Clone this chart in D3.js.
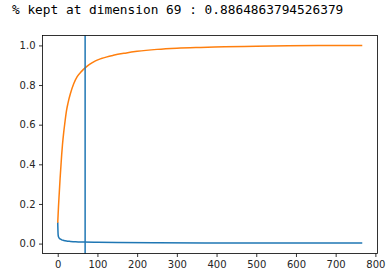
<!DOCTYPE html>
<html>
<head>
<meta charset="utf-8">
<script src="https://cdn.jsdelivr.net/npm/d3@7"></script>
<style>
  body { margin: 0; background: #fff; }
  svg { display: block; }
  .title { font-family: "DejaVu Sans Mono", monospace; font-size: 12.8px; fill: #000; }
  .tick text { font-family: "DejaVu Sans", sans-serif; font-size: 10px; fill: #262626; }
</style>
</head>
<body>
<svg id="chart" width="392" height="278"></svg>
<script>
// cumulative explained variance, read at sampled dimensions
var cumDims = [0, 2, 4, 6, 8, 10, 12, 15, 18, 22, 26, 32, 40, 49, 60, 69, 80, 95, 110, 140, 170, 200, 250, 300, 360, 420, 500, 580, 660, 767];
var cumValues = [0.105, 0.19, 0.26, 0.33, 0.39, 0.45, 0.50, 0.56, 0.61, 0.67, 0.71, 0.757, 0.805, 0.842, 0.869, 0.8865, 0.904, 0.922, 0.934, 0.950, 0.961, 0.970, 0.980, 0.986, 0.990, 0.993, 0.996, 0.998, 0.999, 1.0];

// per-dimension explained variance ratio
var ratioDims = [0, 1, 2, 4, 7, 10, 15, 22, 32, 45, 65, 100, 150, 250, 400, 600, 767];
var ratioValues = [0.108, 0.045, 0.034, 0.027, 0.022, 0.019, 0.016, 0.013, 0.011, 0.009, 0.0075, 0.0062, 0.005, 0.004, 0.0033, 0.0028, 0.0025];

var keptDim = 69;
var keptValue = "0.8864863794526379";

var xTicks = [0, 100, 200, 300, 400, 500, 600, 700, 800];
var yTicks = [0.0, 0.2, 0.4, 0.6, 0.8, 1.0];

var svg = d3.select("#chart");

svg.append("text")
  .attr("class", "title")
  .attr("x", 12)
  .attr("y", 13.5)
  .text("% kept at dimension " + keptDim + " : " + keptValue);

var x = d3.scaleLinear().domain([-38.35, 805.35]).range([42.5, 377.5]);
var y = d3.scaleLinear().domain([-0.05, 1.05]).range([253.5, 35.5]);

function pts(dims, vals) {
  return dims.map(function(d, i) { return [d, vals[i]]; });
}

var line = d3.line()
  .x(function(d) { return x(d[0]); })
  .y(function(d) { return y(d[1]); })
  .curve(d3.curveMonotoneX);

var plot = svg.append("g");

plot.append("path")
  .attr("d", line(pts(ratioDims, ratioValues)))
  .attr("fill", "none")
  .attr("stroke", "#1f77b4")
  .attr("stroke-width", 1.5);

plot.append("path")
  .attr("d", line(pts(cumDims, cumValues)))
  .attr("fill", "none")
  .attr("stroke", "#ff7f0e")
  .attr("stroke-width", 1.5);

plot.append("line")
  .attr("x1", x(keptDim)).attr("x2", x(keptDim))
  .attr("y1", y.range()[0]).attr("y2", y.range()[1])
  .attr("stroke", "#1f77b4")
  .attr("stroke-width", 1.5);

// axes
var xAxis = svg.append("g")
  .attr("transform", "translate(0," + y.range()[0] + ")")
  .call(d3.axisBottom(x).tickValues(xTicks).tickSize(3.5).tickPadding(3.5).tickFormat(d3.format("d")));

var yAxis = svg.append("g")
  .attr("transform", "translate(" + x.range()[0] + ",0)")
  .call(d3.axisLeft(y).tickValues(yTicks).tickSize(3.5).tickPadding(3.5).tickFormat(d3.format(".1f")));

[xAxis, yAxis].forEach(function(a) {
  a.select(".domain").remove();
  a.selectAll(".tick line").attr("stroke", "#000").attr("stroke-width", 0.8);
});

// frame
svg.append("rect")
  .attr("x", x.range()[0]).attr("y", y.range()[1])
  .attr("width", x.range()[1] - x.range()[0])
  .attr("height", y.range()[0] - y.range()[1])
  .attr("fill", "none")
  .attr("stroke", "#000")
  .attr("stroke-width", 0.8);
</script>
</body>
</html>
